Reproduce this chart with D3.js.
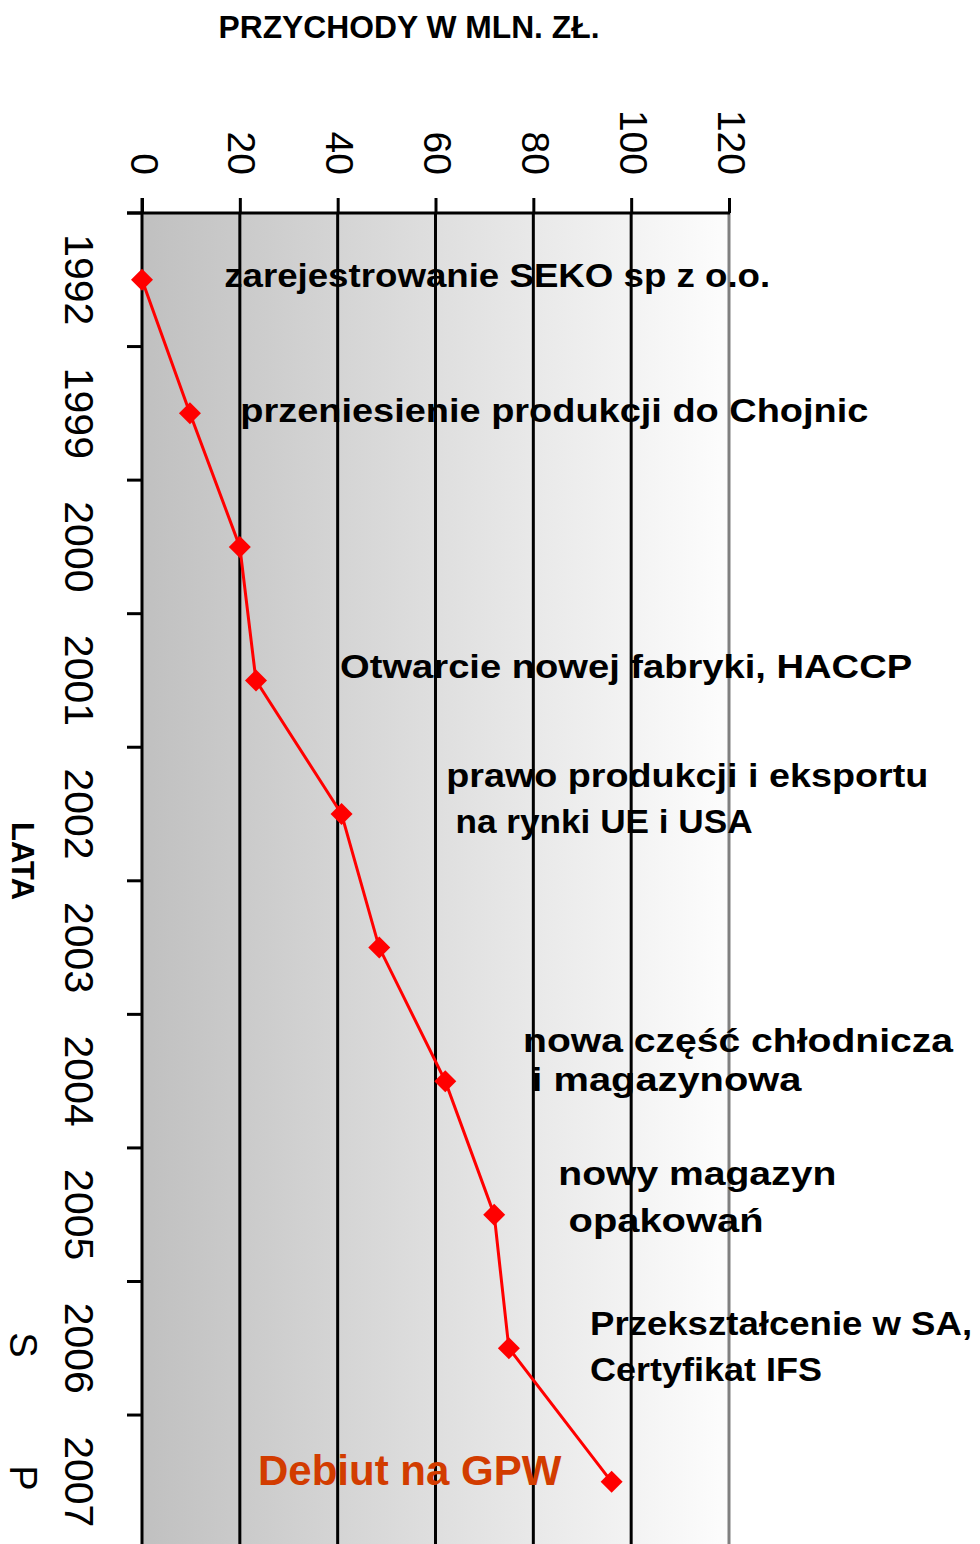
<!DOCTYPE html>
<html><head><meta charset="utf-8">
<script src="https://cdn.jsdelivr.net/npm/d3@7"></script>
<style>html,body{margin:0;padding:0;background:#fff}svg{display:block}</style>
</head><body>
<script>
const years = ["1992","1999","2000","2001","2002","2003","2004","2005","2006","2007"];
const revenue = [0, 9.8, 20, 23.3, 40.8, 48.5, 62, 72, 75, 96];
const xTicks = [0, 20, 40, 60, 80, 100, 120];
const annotLines = [
  "zarejestrowanie SEKO sp z o.o.",
  "przeniesienie produkcji do Chojnic",
  "Otwarcie nowej fabryki, HACCP",
  "prawo produkcji i eksportu",
  "na rynki UE i USA",
  "nowa część chłodnicza",
  "i magazynowa",
  "nowy magazyn",
  "opakowań",
  "Przekształcenie w SA,",
  "Certyfikat IFS"
];
const annotValueX = [16.8, 20.1, 40.5, 62.2, 64.1, 77.9, 79.6, 85.1, 87.2, 91.6, 91.6];
const annotY = [287, 422, 678, 787, 833, 1052, 1091, 1185, 1232, 1335, 1381];
const annotW = [546, 628, 572, 482, 297, 430, 270, 278, 195, 382, 232];
const debutText = "Debiut na GPW";
const titleText = "PRZYCHODY W MLN. ZŁ.";
const yTitle = "LATA";

const W = 980, H = 1544;
const svg = d3.select("body").append("svg").attr("width", W).attr("height", H);

const x = d3.scaleLinear().domain([0, 120]).range([142, 729]);
const y = d3.scaleBand().domain(years).range([213, 1548.6]).paddingInner(0).paddingOuter(0);

const defs = svg.append("defs");
const grad = defs.append("linearGradient").attr("id", "bg")
  .attr("x1", "0").attr("x2", "1").attr("y1", "0").attr("y2", "0");
grad.append("stop").attr("offset", "0").attr("stop-color", "#c0c0c0");
grad.append("stop").attr("offset", "1").attr("stop-color", "#fdfdfd");

svg.append("rect").attr("x", x(0)).attr("y", 213)
  .attr("width", x(120) - x(0)).attr("height", H - 213)
  .attr("fill", "url(#bg)");

// grid lines
svg.append("g").selectAll("line").data(xTicks.filter(d => d > 0)).join("line")
  .attr("x1", d => x(d)).attr("x2", d => x(d))
  .attr("y1", 213).attr("y2", H)
  .attr("stroke", d => d === 120 ? "#808080" : "#000")
  .attr("stroke-width", 3);

// top axis
const xAxis = d3.axisTop(x).tickValues(xTicks).tickSize(15).tickSizeOuter(0).tickFormat(d3.format("d"));
const gx = svg.append("g").attr("transform", "translate(0,213)").call(xAxis);
gx.select(".domain").remove();
gx.selectAll(".tick line").attr("stroke", "#000").attr("stroke-width", 3);
gx.selectAll(".tick text")
  .attr("font-family", "'Liberation Sans', Arial, sans-serif")
  .attr("font-size", 39).attr("fill", "#000")
  .attr("text-anchor", "end")
  .attr("y", 0).attr("dy", 0)
  .attr("transform", "translate(-12,-38) rotate(90)");
svg.append("line").attr("x1", 127).attr("x2", x(120) + 1).attr("y1", 213).attr("y2", 213)
  .attr("stroke", "#000").attr("stroke-width", 3);

// left axis
svg.append("line").attr("x1", x(0)).attr("x2", x(0)).attr("y1", 198).attr("y2", H)
  .attr("stroke", "#000").attr("stroke-width", 3);
svg.append("g").selectAll("line").data(years).join("line")
  .attr("x1", 127).attr("x2", x(0))
  .attr("y1", d => y(d)).attr("y2", d => y(d))
  .attr("stroke", "#000").attr("stroke-width", 3);
svg.append("g").selectAll("text").data(years).join("text")
  .attr("transform", d => `translate(65,${y(d) + y.bandwidth() / 2}) rotate(90)`)
  .attr("text-anchor", "middle")
  .attr("font-family", "'Liberation Sans', Arial, sans-serif")
  .attr("font-size", 41).attr("fill", "#000")
  .text(d => d);

// axis titles
svg.append("text").attr("x", 409).attr("y", 38).attr("text-anchor", "middle")
  .attr("font-family", "'Liberation Sans', Arial, sans-serif")
  .attr("font-weight", "bold").attr("font-size", 31.8).text(titleText);
svg.append("text").attr("transform", "translate(12,861) rotate(90)").attr("text-anchor", "middle")
  .attr("font-family", "'Liberation Sans', Arial, sans-serif")
  .attr("font-weight", "bold").attr("font-size", 31).text(yTitle);
svg.append("text").attr("transform", "translate(10,1345) rotate(90)").attr("text-anchor", "middle")
  .attr("font-family", "'Liberation Sans', Arial, sans-serif")
  .attr("font-size", 38).text("S");
svg.append("text").attr("transform", "translate(10,1478) rotate(90)").attr("text-anchor", "middle")
  .attr("font-family", "'Liberation Sans', Arial, sans-serif")
  .attr("font-size", 38).text("P");

// line + markers
const pts = years.map((yr, i) => ({yr, v: revenue[i]}));
const line = d3.line().x(d => x(d.v)).y(d => y(d.yr) + y.bandwidth() / 2);
svg.append("path").datum(pts).attr("d", line)
  .attr("fill", "none").attr("stroke", "#ff0000").attr("stroke-width", 3);
const diamond = "M0,-11L11,0L0,11L-11,0Z";
svg.append("g").selectAll("path").data(pts).join("path")
  .attr("d", diamond)
  .attr("transform", d => `translate(${x(d.v)},${y(d.yr) + y.bandwidth() / 2})`)
  .attr("fill", "#ff0000");

// annotations
svg.append("g").selectAll("text").data(annotLines).join("text")
  .attr("x", (d, i) => x(annotValueX[i]))
  .attr("y", (d, i) => annotY[i])
  .attr("textLength", (d, i) => annotW[i])
  .attr("lengthAdjust", "spacingAndGlyphs")
  .attr("font-family", "'Liberation Sans', Arial, sans-serif")
  .attr("font-weight", "bold").attr("font-size", 33).attr("fill", "#000")
  .text(d => d);

svg.append("text").attr("x", 258).attr("y", 1485)
  .attr("font-family", "'Liberation Sans', Arial, sans-serif")
  .attr("font-weight", "bold").attr("font-size", 42).attr("fill", "#d23c00")
  .text(debutText);
</script>
</body></html>
